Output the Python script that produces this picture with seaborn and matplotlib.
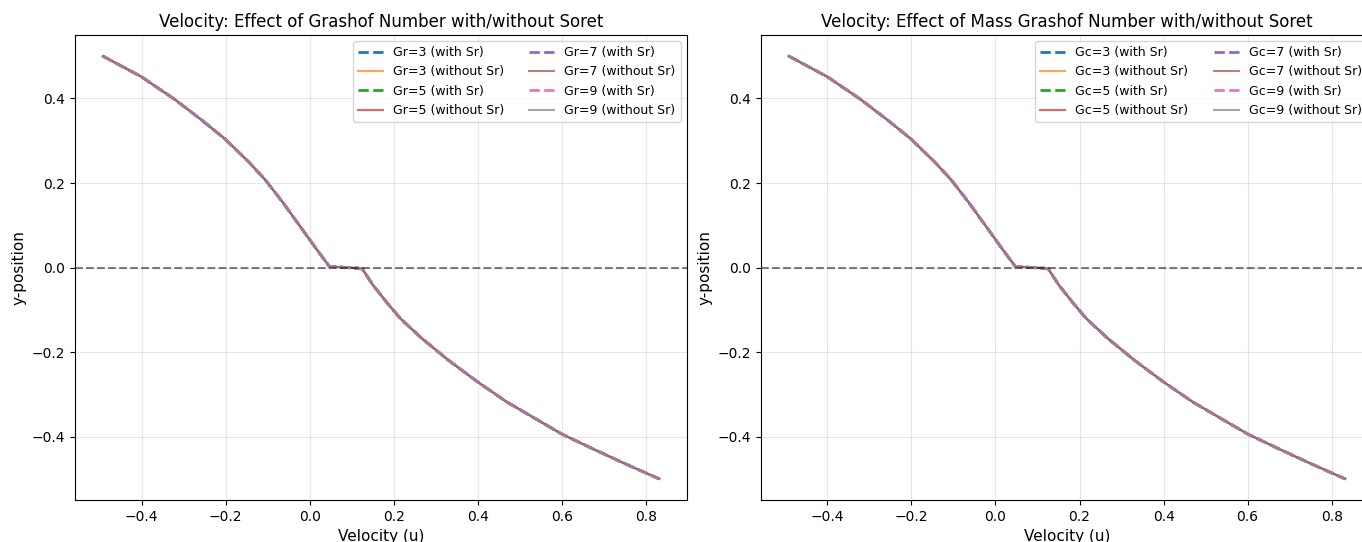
import matplotlib
matplotlib.use("Agg")
import matplotlib.pyplot as plt
import seaborn as sns
import pandas as pd

# ---- data ----
y_pos = [0.500, 0.451, 0.397, 0.349, 0.304, 0.250, 0.207, 0.156, 0.101, 0.043, 0.003,
         -0.002, -0.040, -0.085, -0.120, -0.167, -0.219, -0.270, -0.317, -0.360, -0.393,
         -0.427, -0.462, -0.499]
u_vel = [-0.492, -0.400, -0.320, -0.257, -0.201, -0.145, -0.105, -0.065, -0.025, 0.017, 0.047,
         0.125, 0.150, 0.186, 0.216, 0.267, 0.331, 0.400, 0.469, 0.543, 0.600,
         0.672, 0.748, 0.832]

param_values = [3, 5, 7, 9]
# all profiles coincide in the reference
u_with_sr = {3: u_vel, 5: u_vel, 7: u_vel, 9: u_vel}
u_without_sr = {3: u_vel, 5: u_vel, 7: u_vel, 9: u_vel}

titles = ["Velocity: Effect of Grashof Number with/without Soret",
          "Velocity: Effect of Mass Grashof Number with/without Soret"]
prefixes = ["Gr", "Gc"]
x_label = "Velocity (u)"
y_label = "y-position"

palette = sns.color_palette("tab10")

fig = plt.figure(figsize=(13.62, 5.42), dpi=100)
ax_positions = [[0.0551, 0.0775, 0.4493, 0.8580],
                [0.5587, 0.0775, 0.4493, 0.8580]]

for k, (prefix, title) in enumerate(zip(prefixes, titles)):
    ax = fig.add_axes(ax_positions[k])
    ci = 0
    for p in param_values:
        df_w = pd.DataFrame({"u": u_with_sr[p], "y": y_pos})
        sns.lineplot(data=df_w, x="u", y="y", sort=False, estimator=None, ax=ax,
                     color=palette[ci], linestyle="--", linewidth=2,
                     label=f"{prefix}={p} (with Sr)")
        ci += 1
        df_o = pd.DataFrame({"u": u_without_sr[p], "y": y_pos})
        sns.lineplot(data=df_o, x="u", y="y", sort=False, estimator=None, ax=ax,
                     color=palette[ci], linestyle="-", linewidth=1.5, alpha=0.7,
                     label=f"{prefix}={p} (without Sr)")
        ci += 1
    ax.axhline(0, color="k", linestyle="--", alpha=0.5, linewidth=1.5)
    ax.set_title(title, fontsize=12)
    ax.set_xlabel(x_label, fontsize=11)
    ax.set_ylabel(y_label, fontsize=11)
    ax.grid(True, alpha=0.3)
    ax.legend(ncol=2, fontsize=9, loc="upper right")

fig.savefig("out.png", dpi=100)
